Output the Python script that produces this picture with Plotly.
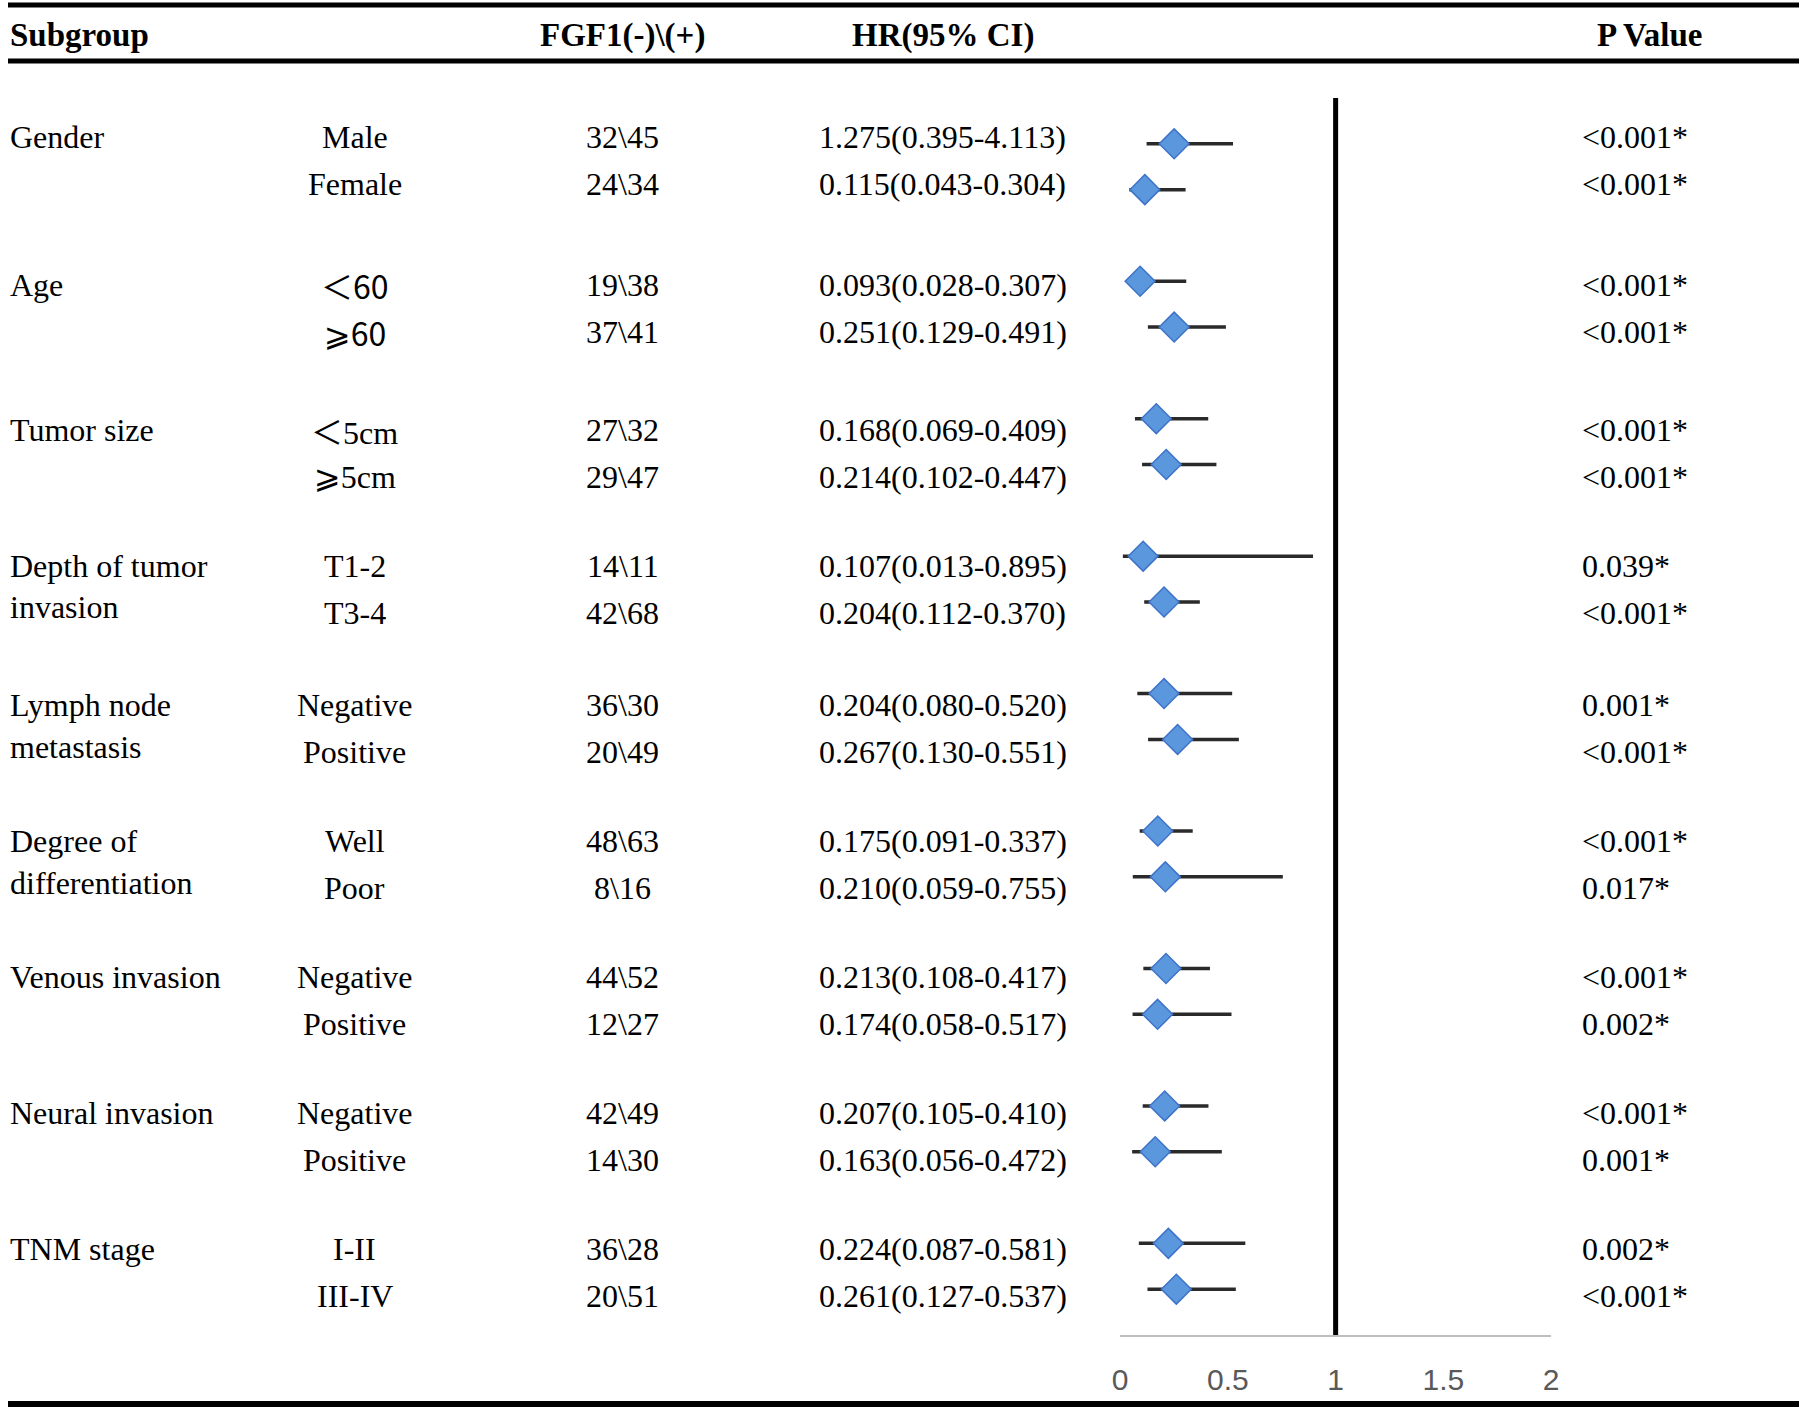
import plotly.graph_objects as go

# forest plot of FGF1 expression by clinical subgroup (table + HR markers)

W, H = 1807, 1408

subgroups = ["Gender", "Age", "Tumor size", "Depth of tumor|invasion", "Lymph node|metastasis",
             "Degree of|differentiation", "Venous invasion", "Neural invasion", "TNM stage"]
levels = [["Male", "Female"], ["＜60", "⩾60"], ["＜5cm", "⩾5cm"], ["T1-2", "T3-4"],
          ["Negative", "Positive"], ["Well", "Poor"], ["Negative", "Positive"],
          ["Negative", "Positive"], ["I-II", "III-IV"]]
counts = ["32\\45", "24\\34", "19\\38", "37\\41", "27\\32", "29\\47", "14\\11", "42\\68", "36\\30",
          "20\\49", "48\\63", "8\\16", "44\\52", "12\\27", "42\\49", "14\\30", "36\\28", "20\\51"]
hr_text = ["1.275(0.395-4.113)", "0.115(0.043-0.304)", "0.093(0.028-0.307)", "0.251(0.129-0.491)",
           "0.168(0.069-0.409)", "0.214(0.102-0.447)", "0.107(0.013-0.895)", "0.204(0.112-0.370)",
           "0.204(0.080-0.520)", "0.267(0.130-0.551)", "0.175(0.091-0.337)", "0.210(0.059-0.755)",
           "0.213(0.108-0.417)", "0.174(0.058-0.517)", "0.207(0.105-0.410)", "0.163(0.056-0.472)",
           "0.224(0.087-0.581)", "0.261(0.127-0.537)"]
p_values = ["<0.001*", "<0.001*", "<0.001*", "<0.001*", "<0.001*", "<0.001*", "0.039*", "<0.001*",
            "0.001*", "<0.001*", "<0.001*", "0.017*", "<0.001*", "0.002*", "<0.001*", "0.001*",
            "0.002*", "<0.001*"]

# values as drawn in the forest panel
hr_est = [0.251, 0.115, 0.093, 0.251, 0.168, 0.214, 0.107, 0.204, 0.204, 0.267,
          0.175, 0.210, 0.213, 0.174, 0.207, 0.163, 0.224, 0.261]
hr_low = [0.123, 0.043, 0.028, 0.129, 0.069, 0.102, 0.013, 0.112, 0.080, 0.130,
          0.091, 0.059, 0.108, 0.058, 0.105, 0.056, 0.087, 0.127]
hr_high = [0.524, 0.304, 0.307, 0.491, 0.409, 0.447, 0.895, 0.370, 0.520, 0.551,
           0.337, 0.755, 0.417, 0.517, 0.410, 0.472, 0.581, 0.537]
x_ticks = [0, 0.5, 1, 1.5, 2]

# layout (pixels)
group_top = [137, 285, 430, 566, 705, 841, 977, 1113, 1249]
row_gap = 47
line_gap = 41.5
serif = "Liberation Serif"
body = 32
head = 33

slots = [3 * g + k for g in range(len(subgroups)) for k in range(2)]

fig = go.Figure()
fig.add_trace(go.Scatter(
    x=hr_est, y=slots, mode="markers",
    marker=dict(symbol="diamond", size=23, color="#5b97dc", line=dict(color="#3d73c9", width=1.5)),
    error_x=dict(type="data", symmetric=False,
                 array=[h - e for h, e in zip(hr_high, hr_est)],
                 arrayminus=[e - l for e, l in zip(hr_est, hr_low)],
                 color="#2a2a2a", thickness=3.5, width=0),
    hoverinfo="skip", showlegend=False,
))


def px_x(v):
    return v / W


def px_y(v):
    return 1 - v / H


ann = []


def text(s, x, y, anchor="left", size=body, bold=False):
    if bold:
        s = "<b>" + s + "</b>"
    ann.append(dict(text=s, x=px_x(x), y=px_y(y), xref="paper", yref="paper",
                    xanchor=anchor, yanchor="middle", showarrow=False,
                    font=dict(family=serif, size=size, color="black")))


def fix_sym(s):
    s = s.replace("＜", '<span style="font-family:Noto Sans CJK SC">＜</span>')
    s = s.replace("⩾", '<span style="font-family:DejaVu Sans">⩾</span>')
    if s.endswith("60"):
        s = s.replace("60", '<span style="font-family:Noto Sans CJK SC">60</span>')
    return s


# headers
text("Subgroup", 0, 35, bold=True, size=head)
text("FGF1(-)\\(+)", 620, 35, anchor="center", bold=True, size=head)
text("HR(95% CI)", 943, 35, anchor="center", bold=True, size=head)
text("P Value", 1656, 35, anchor="center", bold=True, size=head)

i = 0
for g, name in enumerate(subgroups):
    for j, ln in enumerate(name.split("|")):
        text(ln, 0, group_top[g] + j * line_gap)
    for k in range(2):
        y = group_top[g] + k * row_gap
        text(fix_sym(levels[g][k]), 350, y, anchor="center")
        text(counts[i], 620, y, anchor="center")
        text(hr_text[i], 943, y, anchor="center")
        text(p_values[i], 1586, y)
        i += 1

shapes = [
    dict(type="line", xref="paper", yref="paper", x0=0, x1=1, y0=px_y(5), y1=px_y(5),
         line=dict(color="black", width=5)),
    dict(type="line", xref="paper", yref="paper", x0=0, x1=1, y0=px_y(61), y1=px_y(61),
         line=dict(color="black", width=5)),
    dict(type="line", xref="paper", yref="paper", x0=0, x1=1, y0=px_y(1404), y1=px_y(1404),
         line=dict(color="black", width=6)),
    dict(type="line", xref="x", yref="y", x0=1, x1=1, y0=-1, y1=26,
         line=dict(color="black", width=5)),
]

fig.update_layout(
    width=W, height=H,
    margin=dict(l=0, r=0, t=0, b=0),
    paper_bgcolor="white", plot_bgcolor="white",
    annotations=ann, shapes=shapes,
    xaxis=dict(domain=[1122 / W, 1557 / W], range=[0, 2], tickvals=x_ticks,
               ticktext=[f"{t:g}" for t in x_ticks],
               showgrid=False, zeroline=False, showline=True, linecolor="#bfbfbf", linewidth=2,
               ticks="", ticklabelstandoff=17,
               tickfont=dict(family="Liberation Sans", size=30, color="#595959")),
    yaxis=dict(domain=[1 - 1335 / H, 1 - 98 / H], range=[26, -1], visible=False),
)

# drop the browser's default page margin so the figure sits at (0, 0)
fig.write_html("out.html", config={"displayModeBar": False},
               post_script="document.body.style.margin='0';")
